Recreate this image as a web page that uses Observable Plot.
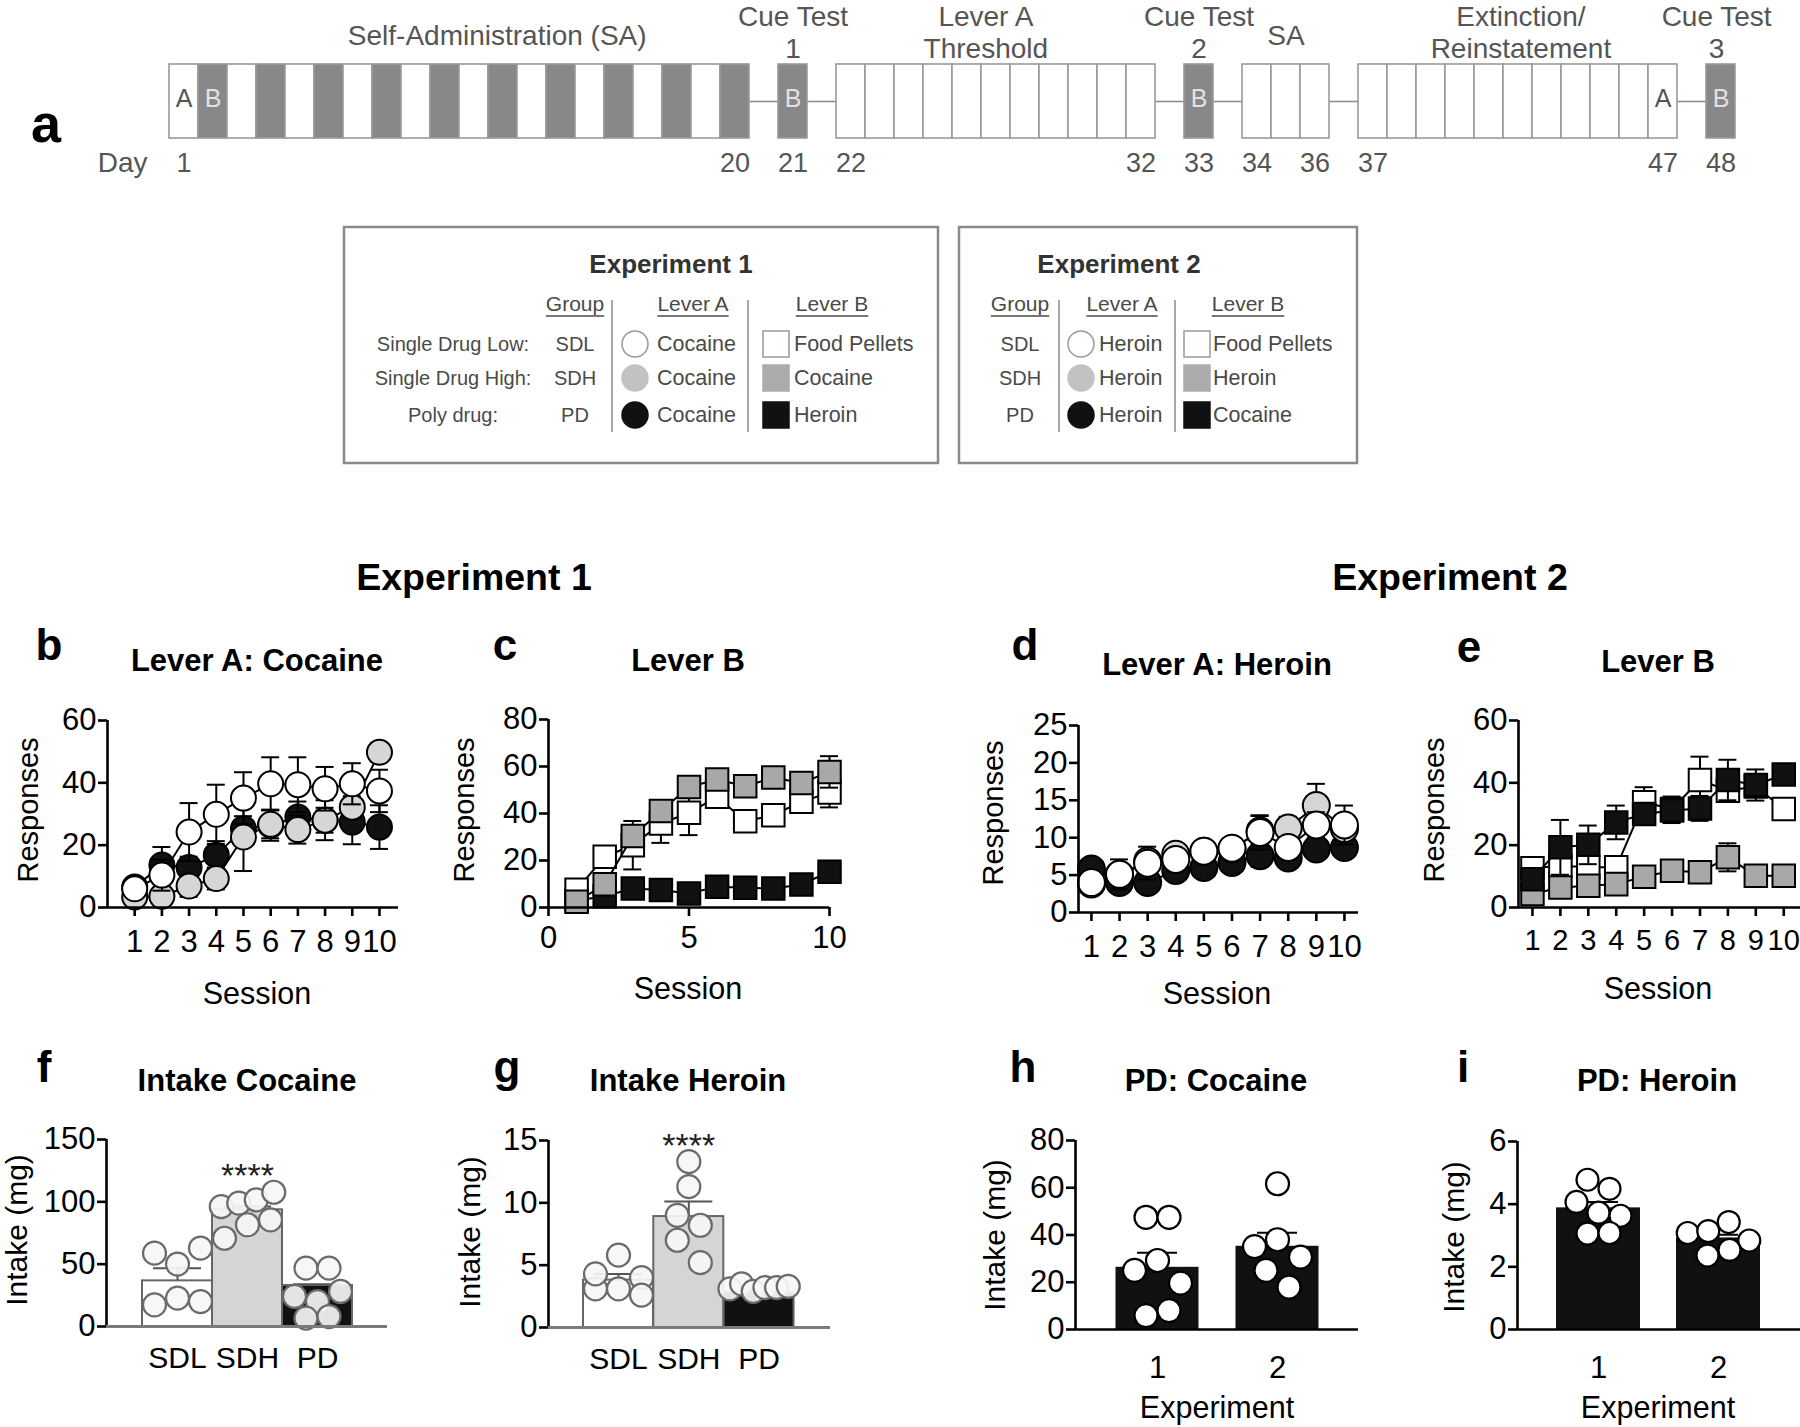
<!DOCTYPE html>
<html><head><meta charset="utf-8">
<script src="https://cdn.jsdelivr.net/npm/d3@7"></script>
<script src="https://cdn.jsdelivr.net/npm/@observablehq/plot@0.6"></script>
<style>
html,body{margin:0;padding:0;background:#fff;}
#root{position:relative;width:1800px;height:1427px;overflow:hidden;background:#fff;}
.panel{position:absolute;}
.panel svg{max-width:none !important;}
#overlay{position:absolute;left:0;top:0;pointer-events:none;}
</style></head>
<body><div id="root"></div>
<script>
// ================= DATA =================
// Panel a: timeline
const phaseLabels = ["Self-Administration (SA)", "Cue Test\n1", "Lever A\nThreshold", "Cue Test\n2", "SA", "Extinction/\nReinstatement", "Cue Test\n3"];
const phaseStart = [1, 21, 22, 33, 34, 37, 48];
const phaseEnd = [20, 21, 32, 33, 36, 47, 48];
const leverBDays = [2, 4, 6, 8, 10, 12, 14, 16, 18, 20, 21, 33, 48];
const letterADays = [1, 47];
const letterBDays = [2, 21, 33, 48];
const dayTicks = [1, 20, 21, 22, 32, 33, 34, 36, 37, 47, 48];

// Legend
const groupNames = ["Single Drug Low:", "Single Drug High:", "Poly drug:"];
const groupCodes = ["SDL", "SDH", "PD"];
const exp1LeverA = ["Cocaine", "Cocaine", "Cocaine"];
const exp1LeverB = ["Food Pellets", "Cocaine", "Heroin"];
const exp2LeverA = ["Heroin", "Heroin", "Heroin"];
const exp2LeverB = ["Food Pellets", "Heroin", "Cocaine"];

// Sessions
const sessions = [1, 2, 3, 4, 5, 6, 7, 8, 9, 10];

// b: Exp 1 Lever A (cocaine)
const bSDL = [6.0, 10.4, 24.2, 29.9, 35.1, 39.7, 39.4, 38.1, 39.7, 37.4];
const bSDLsem = [1.5, 5, 9.3, 9.5, 8.3, 8.5, 8.8, 7, 6.6, 6.8];
const bSDH = [3.4, 3.6, 6.9, 9.3, 22.6, 26.7, 25.0, 28.0, 32.2, 49.8];
const bSDHsem = [1.5, 2, 3.5, 3.5, 10.9, 4.5, 4.5, 4, 3.5, 3];
const bPD = [6.6, 13.6, 12.8, 16.8, 25.3, 26.4, 29.0, 28.0, 27.4, 25.8];
const bPDsem = [1.5, 5.8, 3.5, 4.5, 4, 5, 5, 6.4, 7.1, 7];

// c: Exp 1 Lever B
const cSDL = [7.5, 21.6, 26.5, 35.7, 40.3, 47.1, 36.7, 39.3, 45.0, 48.9];
const cSDLsem = [2, 4, 10.3, 8.2, 9.5, 4, 3, 3, 4, 6.3];
const cSDH = [2.4, 9.9, 30.4, 41.1, 51.3, 54.5, 51.6, 55.3, 53.0, 57.7];
const cSDHsem = [1, 2, 2, 2, 3, 3, 3, 3, 3, 6.7];
const cPD = [3.0, 4.8, 8.1, 7.4, 6.0, 8.8, 8.4, 8.1, 9.8, 15.2];
const cPDsem = [1, 1.5, 1.5, 1.5, 1.5, 2, 2, 2, 2, 2];

// d: Exp 2 Lever A (heroin)
const dSDL = [4.0, 5.1, 6.6, 7.1, 8.2, 8.6, 10.7, 8.7, 11.7, 11.7];
const dSDLsem = [1, 2, 2.2, 1, 0.8, 0.8, 2.3, 1, 1.7, 2.6];
const dSDH = [3.8, 5.1, 6.9, 7.8, 8.2, 8.5, 10.9, 11.3, 14.3, 11.2];
const dSDHsem = [1, 1, 1, 1, 1, 1, 2, 1.5, 2.9, 1.5];
const dPD = [5.8, 4.0, 4.0, 5.6, 6.0, 6.7, 7.6, 7.3, 8.5, 8.7];
const dPDsem = [1.3, 0.8, 0.8, 0.8, 0.8, 0.8, 1.5, 0.8, 1, 1];

// e: Exp 2 Lever B
const eSDL = [12.6, 13.4, 12.9, 12.9, 33.8, 31.6, 40.9, 37.5, 38.8, 31.6];
const eSDLsem = [3, 3, 3, 2, 4.8, 4, 7.5, 3, 3, 2.5];
const eSDH = [4.3, 6.4, 7.0, 7.5, 9.9, 11.8, 11.3, 16.1, 10.2, 10.2];
const eSDHsem = [2, 2, 2, 2, 2, 2, 2, 4.5, 2, 2];
const ePD = [9.1, 19.3, 20.1, 27.3, 30.0, 31.1, 31.8, 40.9, 39.3, 42.7];
const ePDsem = [3, 8.8, 6.2, 5.4, 3.5, 4, 4, 6.5, 5, 3];

// f: intake cocaine (Exp 1)
const fMeans = [36.6, 93.6, 32.9];
const fSems = [10.2, 2.6, 1.0];
const fDotsSDL = [58.8, 50.0, 62.8, 17.4, 22.7, 20.0];
const fDotsSDH = [96.2, 98.9, 101.6, 107.7, 70.8, 81.6, 85.6];
const fDotsPD = [46.8, 46.8, 24.1, 20.0, 28.1, 6.7, 8.0];

// g: intake heroin (Exp 1)
const gMeans = [3.8, 8.9, 2.8];
const gSems = [0.5, 1.2, 0.2];
const gDotsSDL = [3.1, 4.3, 3.1, 5.8, 4.0, 2.6];
const gDotsSDH = [13.3, 11.3, 9.0, 8.2, 7.0, 5.2];
const gDotsPD = [3.1, 3.5, 2.9, 3.2, 3.2, 3.3];

// h: PD cocaine by experiment
const experiments = ["1", "2"];
const hMeans = [25.9, 34.8];
const hSems = [6.6, 6.1];
const hDotsExp1 = [47.5, 47.5, 25.0, 29.2, 19.6, 5.9, 8.0];
const hDotsExp2 = [61.7, 35.1, 38.0, 30.6, 25.0, 17.9];

// i: PD heroin by experiment
const iMeans = [3.85, 2.89];
const iSems = [0.22, 0.13];
const iDotsExp1 = [4.78, 4.49, 4.07, 3.73, 3.63, 3.06, 3.08];
const iDotsExp2 = [3.08, 3.14, 3.43, 2.84, 2.36, 2.54];

// ================= RENDER =================
const FONT = '"Liberation Sans", Arial, Helvetica, sans-serif';
const TICK_FS = 31;
const root = document.getElementById("root");
function place(svg, left, top, w) {
  const d = document.createElement("div");
  d.className = "panel";
  d.style.left = left + "px"; d.style.top = top + "px"; d.style.width = w + "px";
  d.appendChild(svg); root.appendChild(d);
}
const baseStyle = (fs) => ({fontFamily: FONT, fontSize: fs + "px", background: "transparent", overflow: "visible", color: "#000"});

// ---- Panel a: timeline ----
(function () {
  const cells = [];
  phaseStart.forEach((s, p) => { for (let d = s; d <= phaseEnd[p]; d++) cells.push({day: d, slot: d - 1 + p}); });
  const slotOf = d => cells.find(c => c.day === d).slot;
  const labelShift = [1.3, 0, -0.35, 0, 0, 0.1, -0.15]; // label placement (slots)
  const phases = phaseLabels.map((label, p) => ({label, mid: (slotOf(phaseStart[p]) + slotOf(phaseEnd[p]) + 1) / 2 + labelShift[p]}));
  const links = phaseStart.slice(1).map((s, k) => ({x1: slotOf(phaseEnd[k]) + 1, x2: slotOf(s)}));
  const letters = [...letterADays.map(d => ({d, t: "A"})), ...letterBDays.map(d => ({d, t: "B"}))];
  const nSlots = slotOf(phaseEnd[phaseEnd.length - 1]) + 1;
  const left = 169, slotW = 29, W = 1800, H = 190;
  const svg = Plot.plot({
    width: W, height: H, marginLeft: left, marginRight: W - left - nSlots * slotW, marginTop: 64, marginBottom: 52,
    x: {domain: [0, nSlots], axis: null}, y: {domain: [0, 1], axis: null},
    style: baseStyle(28),
    marks: [
      Plot.link(links, {x1: "x1", x2: "x2", y1: 0.5, y2: 0.5, stroke: "#8f8f8f", strokeWidth: 1.6}),
      Plot.rect(cells, {x1: "slot", x2: d => d.slot + 1, y1: 0, y2: 1, fill: d => leverBDays.includes(d.day) ? "#888888" : "#ffffff", stroke: "#9a9a9a", strokeWidth: 1.6}),
      Plot.text(letters, {x: d => slotOf(d.d) + 0.5, y: 0.5, dy: -3, text: "t", fontSize: 25, fill: d => d.t === "A" ? "#555" : "#e2e2e2"}),
      Plot.text(dayTicks, {x: d => slotOf(d) + 0.5, y: 0, dy: 25, text: d => String(d), fontSize: 27, fill: "#555"}),
      Plot.text(["Day"], {x: 0, y: 0, dy: 25, dx: -22, textAnchor: "end", text: d => d, fontSize: 28, fill: "#555"}),
      Plot.text(phases, {filter: d => d.label.includes("\n"), x: "mid", y: 1, dy: -33, text: "label", fontSize: 28, fill: "#555", lineHeight: 1.15}),
      Plot.text(phases, {filter: d => !d.label.includes("\n"), x: "mid", y: 1, dy: -28, text: "label", fontSize: 28, fill: "#555"})
    ]
  });
  place(svg, 0, 0, W);
})();

// ---- line panels ----
function linePanel(cfg) {
  const L = cfg.ax - 95, T = cfg.yTop - 40;
  const right = Math.min(1800, cfg.axEnd + 40);
  const W = right - L, H = cfg.y0 + 70 - T;
  const pxPerX = (cfg.axEnd - cfg.ax) / (cfg.xDomain[1] - cfg.xDomain[0]);
  const cap = 9 / pxPerX;
  const marks = [];
  for (const s of cfg.series) {
    const rows = sessions.map((x, i) => ({x, y: s.values[i], e: s.sem[i]}));
    marks.push(
      Plot.ruleX(rows, {x: "x", y1: d => d.y - d.e, y2: d => d.y + d.e, stroke: "#000", strokeWidth: 2}),
      Plot.ruleY(rows, {y: d => d.y + d.e, x1: d => d.x - cap, x2: d => d.x + cap, stroke: "#000", strokeWidth: 2}),
      Plot.ruleY(rows, {y: d => d.y - d.e, x1: d => d.x - cap, x2: d => d.x + cap, stroke: "#000", strokeWidth: 2}),
      Plot.line(rows, {x: "x", y: "y", stroke: "#000", strokeWidth: 2}),
      Plot.dot(rows, {x: "x", y: "y", r: cfg.r, symbol: cfg.symbol, fill: s.fill, stroke: "#000", strokeWidth: 2})
    );
  }
  marks.push(
    Plot.ruleX([cfg.xDomain[0]], {stroke: "#000", strokeWidth: 2.6}),
    Plot.ruleY([0], {stroke: "#000", strokeWidth: 2.6}),
    Plot.axisX({ticks: cfg.xTicks, tickSize: 9, tickPadding: cfg.xPad, strokeWidth: 2.6, label: null, fontSize: cfg.xFont || TICK_FS, tickFormat: d => String(d)}),
    Plot.axisY({ticks: cfg.yTicks, tickSize: 9, tickPadding: 2, strokeWidth: 2.6, label: null, fontSize: TICK_FS, tickFormat: d => String(d)})
  );
  const svg = Plot.plot({
    width: W, height: H, marginLeft: cfg.ax - L, marginRight: right - cfg.axEnd,
    marginTop: cfg.yTop - T, marginBottom: T + H - cfg.y0,
    x: {domain: cfg.xDomain}, y: {domain: [0, cfg.yMax]},
    style: baseStyle(TICK_FS), marks
  });
  place(svg, L, T, W);
}

const WHITE = "#ffffff", LGRAY = "#d6d6d6", MGRAY = "#a8a8a8", BLACK = "#111111";
linePanel({ax: 107, axEnd: 398, yTop: 720, y0: 907, xDomain: [0, 10.7], yMax: 60, xTicks: sessions, yTicks: [0, 20, 40, 60], xPad: 13, r: 12.5, symbol: "circle",
  series: [{values: bPD, sem: bPDsem, fill: BLACK}, {values: bSDH, sem: bSDHsem, fill: LGRAY}, {values: bSDL, sem: bSDLsem, fill: WHITE}]});
linePanel({ax: 548, axEnd: 829, yTop: 719, y0: 907, xDomain: [0, 10], yMax: 80, xTicks: [0, 5, 10], yTicks: [0, 20, 40, 60, 80], xPad: 9, r: 12.7, symbol: "square",
  series: [{values: cPD, sem: cPDsem, fill: BLACK}, {values: cSDL, sem: cSDLsem, fill: WHITE}, {values: cSDH, sem: cSDHsem, fill: MGRAY}]});
linePanel({ax: 1078, axEnd: 1358, yTop: 725, y0: 912, xDomain: [0.54, 10.5], yMax: 25, xTicks: sessions, yTicks: [0, 5, 10, 15, 20, 25], xPad: 13, r: 13.5, symbol: "circle",
  series: [{values: dPD, sem: dPDsem, fill: BLACK}, {values: dSDH, sem: dSDHsem, fill: LGRAY}, {values: dSDL, sem: dSDLsem, fill: WHITE}]});
linePanel({ax: 1518, axEnd: 1800, yTop: 720, y0: 907, xDomain: [0.5, 10.6], yMax: 60, xTicks: sessions, yTicks: [0, 20, 40, 60], xPad: 13, xFont: 29, r: 12.7, symbol: "square",
  series: [{values: eSDL, sem: eSDLsem, fill: WHITE}, {values: eSDH, sem: eSDHsem, fill: MGRAY}, {values: ePD, sem: ePDsem, fill: BLACK}]});

// ---- bar panels ----
function swarm(values, pxPerUnit, diam, maxWidth) {
  const idx = values.map((v, i) => i).sort((a, b) => values[b] - values[a]);
  const rows = []; let cur = null;
  for (const i of idx) {
    if (cur && (values[cur[0]] - values[i]) * pxPerUnit < diam) cur.push(i);
    else { cur = [i]; rows.push(cur); }
  }
  const off = new Array(values.length);
  for (const row of rows) {
    row.sort((a, b) => a - b);
    const n = row.length, sp = Math.min(diam, maxWidth / n);
    row.forEach((i, k) => off[i] = (k - (n - 1) / 2) * sp);
  }
  return off;
}
function barPanel(cfg) {
  const L = cfg.ax - 95, T = cfg.yTop - 50;
  const right = Math.min(1800, cfg.axEnd + 30);
  const W = right - L, H = cfg.y0 + 60 - T;
  const xDomain = [(cfg.ax - cfg.c0) / cfg.st, (cfg.axEnd - cfg.c0) / cfg.st];
  const pxPerY = (cfg.y0 - cfg.yTop) / cfg.yMax;
  const hw = cfg.bw / 2 / cfg.st, capH = cfg.capPx / cfg.st;
  const bars = cfg.groups.map((g, i) => ({i, mean: cfg.means[i], sem: cfg.sems[i], fill: cfg.barFill[i]}));
  const dots = [];
  cfg.dots.forEach((vals, i) => {
    const off = swarm(vals, pxPerY, 2 * cfg.r, cfg.bw);
    vals.forEach((v, k) => dots.push({i, v, x: i + off[k] / cfg.st}));
  });
  const marks = [
    Plot.rect(bars, {x1: d => d.i - hw, x2: d => d.i + hw, y1: 0, y2: "mean", fill: d => d.fill, stroke: cfg.barStroke, strokeWidth: 2}),
    Plot.ruleX(bars, {x: "i", y1: "mean", y2: d => d.mean + d.sem, stroke: cfg.errStroke, strokeWidth: 2}),
    Plot.ruleY(bars, {y: d => d.mean + d.sem, x1: d => d.i - capH, x2: d => d.i + capH, stroke: cfg.errStroke, strokeWidth: 2}),
    Plot.dot(dots, {x: "x", y: "v", r: cfg.r, fill: cfg.dotFill, fillOpacity: cfg.dotFillOpacity, stroke: cfg.dotStroke, strokeWidth: 2.2}),
    Plot.ruleX([xDomain[0]], {stroke: "#000", strokeWidth: 2.6}),
    Plot.ruleY([0], {stroke: cfg.baseStroke, strokeWidth: cfg.baseWidth}),
    Plot.axisX({ticks: cfg.groups.map((g, i) => i), tickSize: 0, tickPadding: cfg.xPad, label: null, fontSize: cfg.xFont, tickFormat: i => cfg.groups[i]}),
    Plot.axisY({ticks: cfg.yTicks, tickSize: 9, tickPadding: 2, strokeWidth: 2.6, label: null, fontSize: TICK_FS, tickFormat: d => String(d)})
  ];
  if (cfg.star != null) {
    const sd = cfg.dots[cfg.star];
    marks.push(Plot.text([d3.max(sd)], {x: cfg.star, y: d => d, dy: -16, text: () => "****", fontSize: 34, fill: "#222"}));
  }
  const svg = Plot.plot({
    width: W, height: H, marginLeft: cfg.ax - L, marginRight: right - cfg.axEnd,
    marginTop: cfg.yTop - T, marginBottom: T + H - cfg.y0,
    x: {domain: xDomain}, y: {domain: [0, cfg.yMax]}, color: {type: "identity"},
    style: baseStyle(TICK_FS), marks
  });
  place(svg, L, T, W);
}

barPanel({ax: 106, axEnd: 387, yTop: 1139, y0: 1326, yMax: 150, yTicks: [0, 50, 100, 150], c0: 177, st: 70, bw: 70, capPx: 24,
  groups: groupCodes, means: fMeans, sems: fSems, dots: [fDotsSDL, fDotsSDH, fDotsPD], barFill: ["#ffffff", "#d5d5d5", "#111111"],
  barStroke: "#666", errStroke: "#555", r: 11.5, dotFill: "#f6f6f6", dotFillOpacity: 0.92, dotStroke: "#6a6a6a",
  baseStroke: "#7a7a7a", baseWidth: 3, xPad: 20, xFont: 30, star: 1});
barPanel({ax: 548, axEnd: 830, yTop: 1140, y0: 1327, yMax: 15, yTicks: [0, 5, 10, 15], c0: 618, st: 70.3, bw: 70, capPx: 24,
  groups: groupCodes, means: gMeans, sems: gSems, dots: [gDotsSDL, gDotsSDH, gDotsPD], barFill: ["#ffffff", "#d5d5d5", "#111111"],
  barStroke: "#666", errStroke: "#555", r: 11.5, dotFill: "#f6f6f6", dotFillOpacity: 0.92, dotStroke: "#6a6a6a",
  baseStroke: "#7a7a7a", baseWidth: 3, xPad: 20, xFont: 30, star: 1});
barPanel({ax: 1075, axEnd: 1358, yTop: 1140, y0: 1329, yMax: 80, yTicks: [0, 20, 40, 60, 80], c0: 1157, st: 120, bw: 81, capPx: 20,
  groups: experiments, means: hMeans, sems: hSems, dots: [hDotsExp1, hDotsExp2], barFill: ["#111111", "#111111"],
  barStroke: "#111", errStroke: "#000", r: 11.5, dotFill: "#ffffff", dotFillOpacity: 1, dotStroke: "#000",
  baseStroke: "#000", baseWidth: 2.6, xPad: 26, xFont: TICK_FS, star: null});
barPanel({ax: 1517, axEnd: 1800, yTop: 1141, y0: 1329, yMax: 6, yTicks: [0, 2, 4, 6], c0: 1598, st: 120, bw: 82, capPx: 20,
  groups: experiments, means: iMeans, sems: iSems, dots: [iDotsExp1, iDotsExp2], barFill: ["#111111", "#111111"],
  barStroke: "#111", errStroke: "#000", r: 11, dotFill: "#ffffff", dotFillOpacity: 1, dotStroke: "#000",
  baseStroke: "#000", baseWidth: 2.6, xPad: 26, xFont: TICK_FS, star: null});

// ---- overlay text: letters, titles, axis labels, headers, legend ----
const ov = d3.select(root).append("svg").attr("id", "overlay").attr("width", 1800).attr("height", 1427)
  .style("font-family", FONT);
function txt(x, y, s, size, o = {}) {
  return ov.append("text").attr("x", x).attr("y", y).attr("font-size", size)
    .attr("text-anchor", o.anchor || "middle").attr("font-weight", o.bold ? "bold" : null)
    .attr("fill", o.fill || "#000").text(s);
}
const panelLetters = [["a", 46, 142, 54], ["b", 49, 660, 44], ["c", 505, 660, 44], ["d", 1025, 660, 44], ["e", 1469, 662, 44],
  ["f", 44, 1082, 44], ["g", 507, 1082, 44], ["h", 1023, 1082, 44], ["i", 1463, 1082, 44]];
panelLetters.forEach(([t, x, y, s]) => txt(x, y, t, s, {bold: true}));
const panelTitles = ["Lever A: Cocaine", "Lever B", "Lever A: Heroin", "Lever B", "Intake Cocaine", "Intake Heroin", "PD: Cocaine", "PD: Heroin"];
const titlePos = [[257, 671], [688, 671], [1217, 675], [1658, 672], [247, 1091], [688, 1091], [1216, 1091], [1657, 1091]];
panelTitles.forEach((t, k) => txt(titlePos[k][0], titlePos[k][1], t, 31, {bold: true}));
txt(474, 590, "Experiment 1", 37.5, {bold: true});
txt(1450, 590, "Experiment 2", 37.5, {bold: true});
const yLabels = ["Responses", "Responses", "Responses", "Responses", "Intake (mg)", "Intake (mg)", "Intake (mg)", "Intake (mg)"];
const yLabelPos = [[28, 810], [464, 810], [993, 813], [1434, 810], [16, 1230], [469, 1232], [994, 1235], [1453, 1237]];
const yLabelFs = [29, 29, 29, 29, 30, 30, 30, 30];
yLabels.forEach((t, k) => {
  ov.append("text").attr("transform", `translate(${yLabelPos[k][0]},${yLabelPos[k][1]}) rotate(-90)`)
    .attr("text-anchor", "middle").attr("dominant-baseline", "central").attr("font-size", yLabelFs[k]).text(t);
});
const xLabels = ["Session", "Session", "Session", "Session", "Experiment", "Experiment"];
const xLabelPos = [[257, 1004], [688, 999], [1217, 1004], [1658, 999], [1217, 1418], [1658, 1418]];
xLabels.forEach((t, k) => txt(xLabelPos[k][0], xLabelPos[k][1], t, 30.5));

// legend boxes
const legendBoxes = [
  {x: 344, w: 594, title: "Experiment 1", titleX: 671, names: groupNames, nameX: 453, groupX: 575, sep: [612, 748], circX: 635, aX: 657, sqX: 776, bX: 794, hA: 693, hB: 832, leverA: exp1LeverA, leverB: exp1LeverB},
  {x: 959, w: 398, title: "Experiment 2", titleX: 1119, names: null, nameX: null, groupX: 1020, sep: [1059, 1175], circX: 1081, aX: 1099, sqX: 1197, bX: 1213, hA: 1122, hB: 1248, leverA: exp2LeverA, leverB: exp2LeverB}
];
const legCircleFill = ["#ffffff", "#c2c2c2", "#111111"];
const legSquareFill = ["#ffffff", "#acacac", "#111111"];
const rowY = [344, 378, 415];
const LG = "#4a4a4a";
legendBoxes.forEach(b => {
  ov.append("rect").attr("x", b.x).attr("y", 227).attr("width", b.w).attr("height", 236)
    .attr("fill", "none").attr("stroke", "#8a8a8a").attr("stroke-width", 2.5);
  txt(b.titleX, 273, b.title, 26, {bold: true, fill: "#333"});
  [["Group", b.groupX], ["Lever A", b.hA], ["Lever B", b.hB]].forEach(([h, x]) => {
    const t = txt(x, 311, h, 21, {fill: LG});
    const w = t.node().getComputedTextLength();
    ov.append("line").attr("x1", x - w / 2).attr("x2", x + w / 2).attr("y1", 316).attr("y2", 316).attr("stroke", LG).attr("stroke-width", 1.3);
  });
  b.sep.forEach(sx => ov.append("line").attr("x1", sx).attr("x2", sx).attr("y1", 300).attr("y2", 432).attr("stroke", "#8a8a8a").attr("stroke-width", 1.5));
  groupCodes.forEach((g, k) => {
    const y = rowY[k];
    if (b.names) txt(b.nameX, y + 7, b.names[k], 20, {fill: LG});
    txt(b.groupX, y + 7, g, 20, {fill: LG});
    ov.append("circle").attr("cx", b.circX).attr("cy", y).attr("r", 13).attr("fill", legCircleFill[k]).attr("stroke", k === 0 ? "#999" : legCircleFill[k]).attr("stroke-width", 1.5);
    txt(b.aX, y + 7, b.leverA[k], 21.5, {anchor: "start", fill: LG});
    ov.append("rect").attr("x", b.sqX - 13).attr("y", y - 13).attr("width", 26).attr("height", 26).attr("fill", legSquareFill[k]).attr("stroke", k === 0 ? "#999" : legSquareFill[k]).attr("stroke-width", 1.5);
    txt(b.bX, y + 7, b.leverB[k], 21.5, {anchor: "start", fill: LG});
  });
});
</script>
</body></html>
